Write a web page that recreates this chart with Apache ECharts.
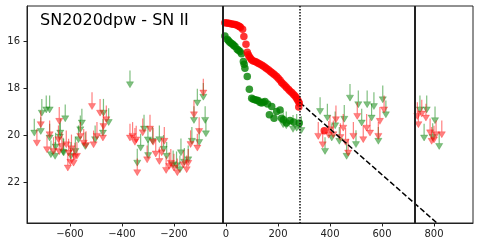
<!DOCTYPE html>
<html><head><meta charset="utf-8">
<script src="https://cdn.jsdelivr.net/npm/echarts@6/dist/echarts.min.js"></script>
<style>html,body{margin:0;padding:0;background:#fff}#c{width:480px;height:248px}</style>
</head><body><div id="c"></div>
<script>
// ---- data ----
var title = 'SN2020dpw - SN II';
var xTicks = [-600, -400, -200, 0, 200, 400, 600, 800];
var yTicks = [16, 18, 20, 22];
var xRange = [-765, 950];
var yRange = [14.5, 23.75];

var rDet = [[-4,15.21],[3,15.22],[9,15.24],[15,15.25],[22,15.27],[28,15.28],[35,15.29],[41,15.31],[47,15.34],[52,15.37],[56,15.41],[64,15.49],[69,15.8],[77,16.13],[82,16.47],[86,16.58],[90,16.66],[95,16.74],[99,16.8],[105,16.84],[112,16.87],[118,16.9],[124,16.94],[130,16.97],[137,17.01],[143,17.06],[150,17.11],[156,17.16],[163,17.22],[170,17.28],[176,17.34],[182,17.39],[188,17.44],[195,17.5],[201,17.58],[208,17.67],[214,17.76],[220,17.83],[227,17.9],[233,17.97],[240,18.05],[246,18.12],[253,18.19],[259,18.26],[265,18.33],[270,18.4],[274,18.47],[278,18.55],[282,18.64],[280,18.81],[378,19.82]];
var gDet = [[-4,15.78],[5,15.92],[10,15.98],[15,16.05],[20,16.09],[26,16.13],[30,16.18],[35,16.23],[43,16.34],[48,16.39],[54,16.44],[60,16.54],[67,16.87],[70,16.98],[73,17.15],[82,17.51],[90,18.05],[99,18.43],[105,18.48],[112,18.5],[118,18.52],[124,18.53],[130,18.6],[137,18.64],[143,18.6],[150,18.57],[160,18.68],[167,19.14],[176,18.78],[185,19.28],[195,19.0],[208,18.93],[214,19.28],[221,19.35],[233,19.49],[246,19.38],[260,19.45],[282,19.49]];

var rLim = [[-727,19.74],[-712,18.95],[-688,20.02],[-678,19.38],[-663,20.09],[-641,18.81],[-644,19.59],[-641,20.1],[-631,19.88],[-614,19.81],[-605,20.16],[-608,20.8],[-598,20.55],[-594,19.98],[-586,20.59],[-581,20.33],[-573,20.3],[-560,19.45],[-547,19.74],[-538,19.84],[-515,18.18],[-509,19.81],[-496,19.45],[-484,18.46],[-471,19.03],[-473,19.52],[-460,18.74],
  [-369,19.52],[-359,19.45],[-350,19.7],[-345,19.6],[-341,21.0],[-320,19.3],[-303,20.45],[-292,19.14],[-280,19.7],[-270,20.2],[-256,20.52],[-247,20.15],[-237,19.66],[-230,20.9],[-218,20.73],[-212,20.6],[-200,20.8],[-187,21.0],[-164,20.66],[-151,20.87],[-145,20.6],[-136,19.8],[-123,18.53],[-110,19.95],[-103,19.24],[-87,17.6],
  [355,19.45],[372,19.81],[395,19.4],[400,19.17],[413,19.38],[423,18.74],[440,19.5],[451,19.1],[460,19.7],[470,20.16],[490,19.45],[505,18.6],[528,19.59],[541,19.1],[554,19.31],[586,19.45],[592,18.81],[608,18.32],
  [736,18.6],[740,18.95],[753,18.5],[769,18.67],[785,19.3],[791,19.66],[800,19.6],[808,19.38],[830,19.38]];
var gLim = [[-737,19.31],[-712,19.24],[-708,18.46],[-691,18.32],[-678,18.32],[-678,19.52],[-673,20.23],[-657,20.3],[-655,19.9],[-639,19.48],[-637,19.31],[-626,20.12],[-624,20.16],[-618,18.7],[-596,20.3],[-579,20.09],[-567,19.59],[-560,19.17],[-554,18.88],[-541,19.88],[-503,19.59],[-473,19.31],[-471,18.46],[-451,18.86],
  [-369,17.25],[-341,20.59],[-328,19.95],[-315,19.14],[-300,19.6],[-299,20.27],[-282,19.66],[-256,19.59],[-240,20.0],[-228,20.3],[-203,20.66],[-190,20.7],[-177,20.87],[-173,20.15],[-160,20.55],[-145,20.45],[-131,19.66],[-123,18.77],[-110,18.03],[-103,19.71],[-87,17.78],[-80,18.77],[-77,19.34],
  [220,18.95],[232,19.0],[258,19.15],[272,19.1],[290,19.2],
  [362,18.39],[381,20.09],[390,18.67],[407,19.52],[420,19.0],[436,19.66],[455,18.72],[464,20.3],[477,17.82],[500,19.8],[509,18.1],[522,18.88],[543,18.1],[560,18.67],[569,18.18],[586,19.66],[603,17.89],[615,18.53],
  [746,18.32],[762,19.52],[772,18.32],[795,19.5],[804,18.78],[820,19.88]];

var solidLines = [-13, 727];
var dottedLines = [285];
var decayLine = [[285,18.62],[950,25.1]];

// ---- chart ----
var chart = echarts.init(document.getElementById('c'));
var FONT = 'DejaVu Sans';
function arrowSeries(data, color) {
  return {
    type: 'custom', data: data, clip: true, z: 2,
    renderItem: function (params, api) {
      var x = api.value(0), m = api.value(1);
      var p0 = api.coord([x, m]);
      var p1 = api.coord([x, m + 0.48]);
      var w = 3.6, h = 6;
      return { type: 'group', children: [
        { type: 'line', shape: { x1: p0[0], y1: p0[1], x2: p1[0], y2: p1[1] }, style: { stroke: color, lineWidth: 1.2 } },
        { type: 'polygon', shape: { points: [[p1[0]-w, p1[1]], [p1[0]+w, p1[1]], [p1[0], p1[1]+h]] }, style: { fill: color, stroke: color, lineWidth: 0.5 } }
      ]};
    }
  };
}
function fmtMinus(v) { return v < 0 ? '\u2212' + Math.abs(v) : String(v); }
var markSolid = solidLines.map(function (v) { return { xAxis: v, lineStyle: { type: 'solid', width: 2, color: '#222' } }; });
var markDot = dottedLines.map(function (v) { return { xAxis: v, lineStyle: { type: [1.5, 1.5], width: 1.5, color: '#111' } }; });

chart.setOption({
  animation: false,
  grid: { left: 27, right: 7, top: 6, bottom: 25, show: true, borderColor: '#222', borderWidth: 1, backgroundColor: 'transparent' },
  graphic: [{ type: 'text', left: 40, top: 13, style: { text: title, font: '16px "DejaVu Sans"', fill: '#000' } }],
  xAxis: {
    type: 'value', min: xRange[0], max: xRange[1],
    axisLine: { show: true, onZero: false, lineStyle: { color: '#222', width: 1 } },
    axisTick: { show: true, customValues: xTicks, length: 3.5, lineStyle: { color: '#222' } },
    axisLabel: { customValues: xTicks, formatter: fmtMinus, fontFamily: FONT, fontSize: 10, color: '#222', margin: 6 },
    splitLine: { show: false }
  },
  yAxis: {
    type: 'value', inverse: true, min: yRange[0], max: yRange[1],
    axisLine: { show: true, onZero: false, lineStyle: { color: '#222', width: 1 } },
    axisTick: { show: true, customValues: yTicks, length: 3.5, lineStyle: { color: '#222' } },
    axisLabel: { customValues: yTicks, fontFamily: FONT, fontSize: 10, color: '#222', margin: 7 },
    splitLine: { show: false }
  },
  series: [
    arrowSeries(gLim, 'rgba(0,128,0,0.5)'),
    arrowSeries(rLim, 'rgba(255,0,0,0.5)'),
    { type: 'line', data: decayLine, symbol: 'none', clip: true, z: 3,
      lineStyle: { color: '#000', width: 1.5, type: [5.5, 2.5] },
      markLine: { silent: true, symbol: ['none', 'none'], label: { show: false }, data: markSolid.concat(markDot) } },
    { type: 'scatter', data: gDet, symbolSize: 7.5, itemStyle: { color: '#008000' }, z: 4 },
    { type: 'scatter', data: rDet, symbolSize: 7.5, itemStyle: { color: '#ff0000' }, z: 4 }
  ]
});
</script></body></html>
